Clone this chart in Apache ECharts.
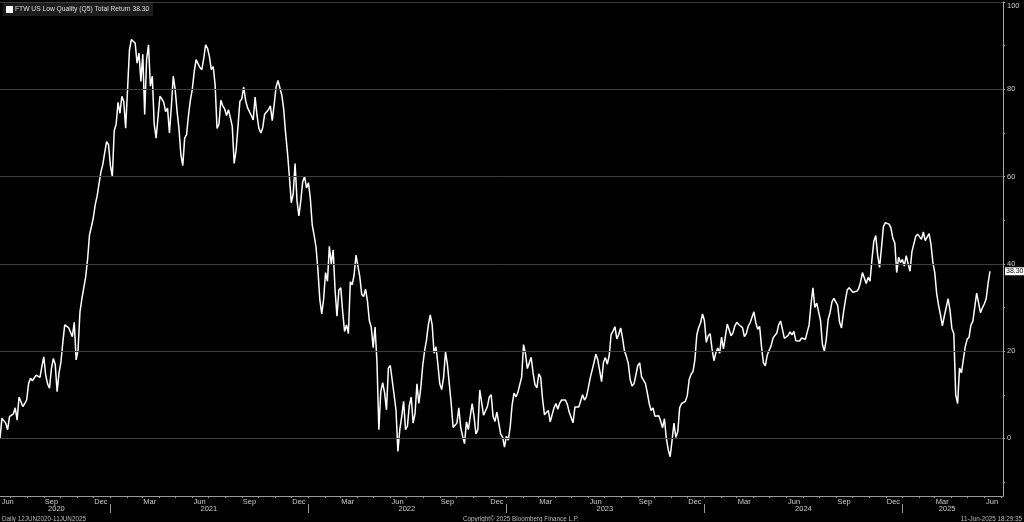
<!DOCTYPE html>
<html>
<head>
<meta charset="utf-8">
<script src="https://cdn.jsdelivr.net/npm/echarts@6/dist/echarts.min.js"></script>
<style>
html,body{margin:0;padding:0;background:#000;}
#c{width:1024px;height:522px;}
</style>
</head>
<body>
<div id="c"></div>
<script>
// ---- data ----
const seriesName = 'FTW US Low Quality (Q5) Total Return';
const startDate = '2020-06-12';
const endDate = '2025-06-11';
const axisEndDate = '2025-07-05';
const values2020 = [0,4.6,4.4,3.5,2,5,5.4,5.6,7,4.2,
9.5,9.3,7.3,8,8.8,12.5,13.8,13.2,13.4,14.5,
14.2,14,16.5,18.7,14.5,12.5,11.5,16,18.3,17,
10.7,15,17.5,22,26,25.6,25.4,25,23.3,26.6,
18,20.3,29,32,34.5,37,41,46.6,48.5,50.5,
53.5,55.5,58.3,61,62.8,65.5,68,67.3,62.5,60,
70.5,72,77,74.5,78.4,77.2,71.1,80,89,91.4,
91,90.6,86,88.3,81.8,88,74.2,86.8,90.2,80.7,
83,72,68.8,68.4,78.4,77.8,77,74.9,75.7,70,
76,83,80,75,71,65,62.5,68.8,69.6,74,
77.5,80,84,86.8,86.4,85];
const values2021 = [84.5,87,90.2,89.4,87.5,84.5,85.2,81,71,72,
77.5,76.2,75.5,74,75.3,73.5,71.5,63,66,71.5,
77.2,77.8,80.5,77.5,75.8,76.2,74,73,78.2,74,
71,70,71.2,74.3,74.2,75.3,76.2,72.8,76.5,80.5,
82,82,78.7,75.5,70,65.5,60,54,56,63,
54.5,51,54.5,58.8,60,57.4,58.6,55,48.9,46.5,
43.8,38.5,31.8,28.5,32,38,36,44,40,43.2,
34,28,34,34.5,29,24.5,26,24,35.9,35.2,
37.5,42,42,37,33,32.5,34.2,31.5,27,25.5,
20.8,25.5,17.5,2,10.7,12.8,10.5,6.5,16.1,16.7,
16.8,10,6.5,-3,2];
const values2022 = [5,8.5,2,2.8,7.5,9.5,3.5,5.7,12.5,8,
11.5,16.5,20,22.5,26,28.3,26,19.5,21,17,
12.5,11.2,14,19.8,17,12.5,8,2.5,3,3.5,
7,2.5,0.5,-1.2,3.8,2,5,8,5,1,
2,11.1,11.4,5.3,5.2,7.3,9.5,10,5,3.9,
6,3.5,1,0.3,-2,0.5,-0.4,2.7,7.7,10.4,
9.5,10.5,12.3,14,21.5,19.5,16,15.8,18.6,15,
12.3,11.6,14.8,14,9,5.4,5.5,6.4,3.8,3.8,
7,8,6.7,8.1,8.8,9.1,8.8,7.8,6,4.8,
3.6,7.2,7.6,7.2,7.5,10,8.8,9.5,11.5,13.8,
15.6,17.4,19.3,18,17.6];
const values2023 = [13,17.5,18.5,17,19,23.8,24.6,25.6,22.8,23.8,
25.3,23,20,18.8,17.2,13.5,12,12.5,14.5,16.7,
17.3,14.1,13.8,12.6,10.5,8,6.4,7,5.1,5.5,
5.2,4,2.4,4.5,0,-2.6,-4.2,-0.5,3.5,0.2,
1.5,7,8,8,8.5,9.8,13.5,14.7,15.3,18,
23.7,25.4,26.5,28.5,27,22,23.5,24,20.5,17.8,
19.6,20.7,19.5,23.2,20.5,20.7,26.2,26.1,23.5,24.2,
25.8,26.6,26.1,26.2,25.4,23.3,24,25.7,26.5,26.2,
29,26.5,25,25.7,21,17.3,16.6,19.1,19.1,21.2,
22.9,23.6,24.1,26,26.9,25,22.9,23.3,23.6,24.4,
23.7,24.5,22.4,22.3,22.3];
const values2024 = [23,23.1,22.7,23,26,30.8,34.5,30,31,31.4,
27,21.5,20,22.7,27.3,28.8,31.3,32.1,32,30.5,
26.6,25.3,28.7,31.5,34,34.5,34.3,33.5,33.2,33.7,
34.3,35.8,38,37.7,35.5,36.9,36,41,45.2,46.5,
42,39.2,43.6,48.5,49.4,49.5,49.1,48.2,45.8,44.8,
38,41.5,40.3,41,39.5,41.9,40,38.3,42.8,43.1,
46.3,46.8,47.1,45.6,47.3,45.3,45.3,46.9,44.5,40.3,
38,33.2,30.5,28.3,25.8,28,30,32,29.4,25.2,
24,10,8,16.1,15,15.2,21,22.7,23.2,26,
26.8,26.8,33.3,33.6,28.8,29.9,30.8,32,35.5,38.3];
const yTickLabels = [0,20,40,60,80,100];
const yMinorTicks = [-10,0,10,20,30,40,50,60,70,80,90,100];
const monthNames = {2:'Mar',5:'Jun',8:'Sep',11:'Dec'};
const yearLabels = [
  ['2020-09-24','2020'],['2021-07-02','2021'],['2022-07-02','2022'],
  ['2023-07-02','2023'],['2024-07-02','2024'],['2025-03-24','2025']
];
const yearSeparators = ['2021-01-01','2022-01-01','2023-01-01','2024-01-01','2025-01-01'];
const footerLeft = 'Daily 12JUN2020-11JUN2025';
const footerCenter = 'Copyright\u00A9 2025 Bloomberg Finance L.P.';
const footerRight = '11-Jun-2025 18:29:35';

// ---- build ----
const values = [].concat(values2020, values2021, values2022, values2023, values2024);
const t0 = Date.parse(startDate + 'T00:00:00Z');
const t1 = Date.parse(endDate + 'T00:00:00Z');
const tMax = Date.parse(axisEndDate + 'T00:00:00Z');
const step = (t1 - t0) / (values.length - 1);
const data = values.map((v, i) => [t0 + i * step, v]);
const lastValue = values[values.length - 1];

const monthStarts = [];
const monthMids = [];
for (let y = 2020; y <= 2025; y++) {
  for (let m = 0; m < 12; m++) {
    const s = Date.UTC(y, m, 1);
    if (s > t0 && s < tMax) monthStarts.push(s);
    const mid = Date.UTC(y, m, 15);
    if (monthNames[m] && mid >= t0 && mid <= tMax) monthMids.push(mid);
  }
}
const yearLabelTimes = yearLabels.map(d => Date.parse(d[0] + 'T00:00:00Z'));
const yearLabelMap = {};
yearLabels.forEach((d, i) => { yearLabelMap[yearLabelTimes[i]] = d[1]; });
const yearSepTimes = yearSeparators.map(d => Date.parse(d + 'T00:00:00Z'));

const FONT = 'Liberation Sans';
const chart = echarts.init(document.getElementById('c'), null, {renderer: 'canvas'});
chart.setOption({
  backgroundColor: '#000',
  animation: false,
  textStyle: {fontFamily: FONT},
  title: [
    {text: footerLeft, left: 2, bottom: 0, padding: 0, textStyle: {fontSize: 6.3, color: '#bbb', fontWeight: 'normal', fontFamily: FONT}},
    {text: footerCenter, left: 463, bottom: 0, padding: 0, textStyle: {fontSize: 6.3, color: '#bbb', fontWeight: 'normal', fontFamily: FONT}},
    {text: footerRight, right: 2, bottom: 0, padding: 0, textStyle: {fontSize: 6.3, color: '#bbb', fontWeight: 'normal', fontFamily: FONT}}
  ],
  legend: {
    left: 3, top: 3, padding: [3, 4, 3, 3],
    backgroundColor: '#1c1c1c',
    icon: 'rect', itemWidth: 7, itemHeight: 7, itemGap: 4,
    textStyle: {color: '#ddd', fontSize: 6.7, fontFamily: FONT, padding: [0, 0, 0, -3]},
    formatter: name => name + ' ' + lastValue.toFixed(2),
    data: [seriesName],
    selectedMode: false
  },
  grid: {left: 0, right: 21, top: 2, bottom: 26, containLabel: false, outerBoundsMode: 'none'},
  xAxis: [
    {
      type: 'value', min: t0, max: tMax, position: 'bottom',
      axisLine: {show: true, onZero: false, lineStyle: {color: '#999', width: 1}},
      axisTick: {show: true, customValues: monthStarts, length: 2, inside: false, lineStyle: {color: '#999'}},
      axisLabel: {
        customValues: monthMids, color: '#ccc', fontSize: 7.5, margin: 2, fontFamily: FONT,
        alignMinLabel: 'left',
        formatter: v => monthNames[new Date(v).getUTCMonth()] || ''
      },
      splitLine: {show: false}
    },
    {
      type: 'value', min: t0, max: tMax, position: 'bottom', offset: 8,
      axisLine: {show: false, onZero: false},
      axisTick: {show: true, customValues: yearSepTimes, length: 9, inside: false, lineStyle: {color: '#999'}},
      axisLabel: {
        customValues: yearLabelTimes, color: '#ccc', fontSize: 7.5, margin: 1, fontFamily: FONT,
        formatter: v => yearLabelMap[v] || ''
      },
      splitLine: {show: false}
    }
  ],
  yAxis: [
    {
      type: 'value', min: -13.2, max: 100, position: 'right',
      axisLine: {show: true, onZero: false, lineStyle: {color: '#aaa', width: 1}},
      axisTick: {show: true, customValues: yMinorTicks, length: 2, inside: false, lineStyle: {color: '#aaa'}},
      axisLabel: {customValues: yTickLabels, color: '#ccc', fontSize: 7.5, margin: 4, fontFamily: FONT, verticalAlignMaxLabel: 'top'},
      splitLine: {show: false}
    },
    {
      type: 'value', min: -13.2, max: 100, position: 'right',
      axisLine: {show: false, onZero: false}, axisTick: {show: false}, splitLine: {show: false},
      axisLabel: {
        customValues: [lastValue], formatter: v => Number(v).toFixed(2),
        color: '#000', backgroundColor: '#fff', padding: [1, 1, 0, 1],
        fontSize: 7, margin: 2, fontFamily: FONT
      }
    }
  ],
  series: [
    {
      type: 'line', name: 'grid', data: [], z: 1, silent: true,
      markLine: {
        silent: true, symbol: 'none', animation: false,
        label: {show: false},
        lineStyle: {color: '#3d3d3d', width: 1, type: 'solid'},
        data: yTickLabels.map(v => ({yAxis: v}))
      }
    },
    {
      type: 'line', name: seriesName, data: data, z: 3,
      showSymbol: false, symbol: 'none',
      lineStyle: {color: '#fff', width: 1.5},
      itemStyle: {color: '#fff'}
    }
  ]
});
</script>
</body>
</html>
